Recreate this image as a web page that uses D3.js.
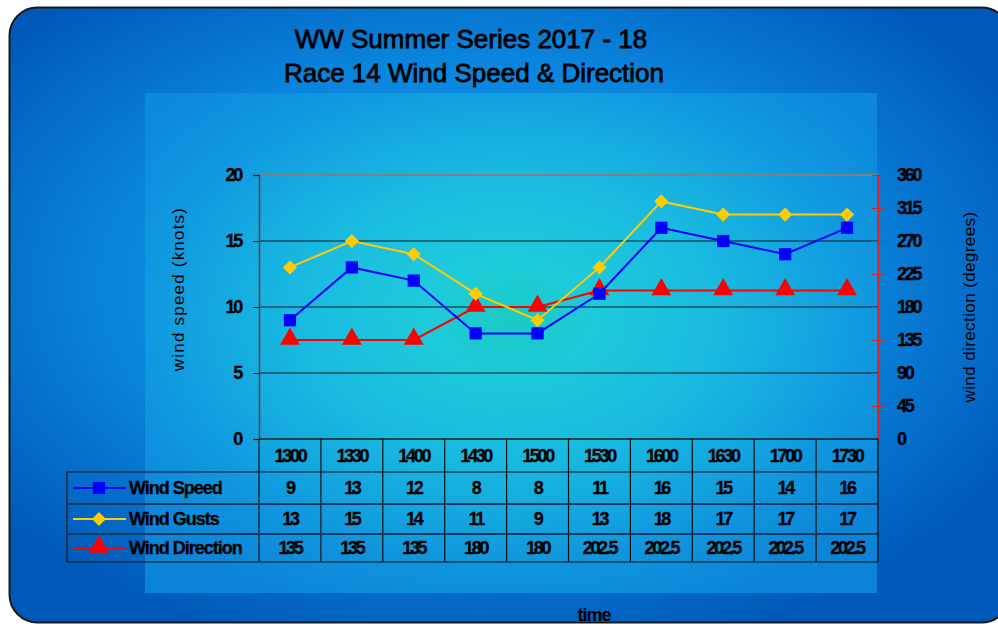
<!DOCTYPE html>
<html><head><meta charset="utf-8">
<script src="https://cdn.jsdelivr.net/npm/d3@7"></script>
<style>
html,body{margin:0;padding:0;background:#fff;}
svg{display:block;font-family:"Liberation Sans",Arial,sans-serif;}
</style></head>
<body>
<svg id="c" width="998" height="624"></svg>
<script>
const categories = ["1300","1330","1400","1430","1500","1530","1600","1630","1700","1730"];
const windSpeed = [9,13,12,8,8,11,16,15,14,16];
const windGusts = [13,15,14,11,9,13,18,17,17,17];
const windDirection = [135,135,135,180,180,202.5,202.5,202.5,202.5,202.5];
const leftTicks = [0,5,10,15,20];
const rightTicks = [0,45,90,135,180,225,270,315,360];
const seriesNames = ["Wind Speed","Wind Gusts","Wind Direction"];

const svg = d3.select("#c");
const defs = svg.append("defs");

const g1 = defs.append("radialGradient").attr("id","outerG").attr("cx","0.47").attr("cy","0.45").attr("r","0.62");
g1.append("stop").attr("offset","0").attr("stop-color","#14a4e6");
g1.append("stop").attr("offset","0.6").attr("stop-color","#0a84dc");
g1.append("stop").attr("offset","1").attr("stop-color","#0058b8");

const g2 = defs.append("radialGradient").attr("id","plotG").attr("cx","0.5").attr("cy","0.45").attr("r","0.62");
g2.append("stop").attr("offset","0").attr("stop-color","#1cd4bc");
g2.append("stop").attr("offset","0.18").attr("stop-color","#20d4d8");
g2.append("stop").attr("offset","0.45").attr("stop-color","#1cc4e0");
g2.append("stop").attr("offset","0.8").attr("stop-color","#129ce0");
g2.append("stop").attr("offset","1").attr("stop-color","#0e8cdc");

svg.append("rect").attr("x",9.5).attr("y",7.5).attr("width",1000).attr("height",615)
  .attr("rx",28).attr("fill","url(#outerG)").attr("stroke","#1a1a1a").attr("stroke-width",2);

svg.append("rect").attr("x",145).attr("y",93).attr("width",732).attr("height",500)
  .attr("fill","url(#plotG)").attr("opacity",0.82);

const L = 259, R = 878, T = 175, B = 439;
const x = d3.scaleBand().domain(categories).range([L, R]);
const cx = c => x(c) + x.bandwidth()/2;
const yL = d3.scaleLinear().domain([0,20]).range([B, T]);
const yR = d3.scaleLinear().domain([0,360]).range([B, T]);

const numStyle = sel => sel.attr("font-size",18).attr("font-weight","bold").attr("letter-spacing","-2.3px")
  .attr("fill","#000").attr("stroke","#000").attr("stroke-width",0.3);

svg.append("g").selectAll("line").data(leftTicks.filter(d=>d>0)).join("line")
  .attr("x1",L).attr("x2",R).attr("y1",d=>yL(d)).attr("y2",d=>yL(d))
  .attr("stroke",d=>d===20?"#808080":"#101820").attr("stroke-width",d=>d===20?2:1.2);

const la = svg.append("g").attr("transform",`translate(${L},0)`)
  .call(d3.axisLeft(yL).tickValues(leftTicks).tickSize(6).tickPadding(12));
la.select(".domain").attr("stroke","#404040").attr("stroke-width",1.5);
la.selectAll(".tick line").attr("stroke","#202020");
numStyle(la.selectAll("text"));

const ra = svg.append("g").attr("transform",`translate(${R},0)`)
  .call(d3.axisRight(yR).tickValues(rightTicks).tickSize(6).tickPadding(13));
ra.select(".domain").attr("stroke","#e02020").attr("stroke-width",1.2);
ra.selectAll(".tick line").attr("stroke","#e02020").attr("x1",-6).attr("x2",6);
numStyle(ra.selectAll("text"));

svg.append("line").attr("x1",L).attr("x2",R).attr("y1",B).attr("y2",B).attr("stroke","#202020").attr("stroke-width",1.5);

const series = [
  {name:seriesNames[0], vals:windSpeed, y:yL, color:"#0000ff", sym:d3.symbolSquare, size:150, rot:0, dy:0},
  {name:seriesNames[1], vals:windGusts, y:yL, color:"#ffcc00", sym:d3.symbolSquare, size:100, rot:45, dy:0},
  {name:seriesNames[2], vals:windDirection, y:yR, color:"#ff0000", sym:d3.symbolTriangle, size:170, rot:0, dy:-1}
];
const order = [2,1,0];
order.forEach(i=>{
  const s = series[i];
  const line = d3.line().x((d,j)=>cx(categories[j])).y(d=>s.y(d));
  svg.append("path").datum(s.vals).attr("d",line).attr("fill","none").attr("stroke",s.color).attr("stroke-width",2);
});
order.forEach(i=>{
  const s = series[i];
  svg.append("g").selectAll("path").data(s.vals).join("path")
    .attr("transform",(d,j)=>`translate(${cx(categories[j])},${s.y(d)+s.dy}) rotate(${s.rot})`)
    .attr("d",d3.symbol().type(s.sym).size(s.size)).attr("fill",s.color);
});

const rowY = [439,472,504,534,562];
const TL = 67;
const tg = svg.append("g");
const bounds = categories.map(c=>x(c)).concat([R]);
tg.selectAll("line.v").data(bounds).join("line").attr("class","v")
  .attr("x1",d=>d).attr("x2",d=>d).attr("y1",rowY[0]).attr("y2",rowY[4])
  .attr("stroke","#101010").attr("stroke-width",1.2);
tg.append("line").attr("x1",TL).attr("x2",TL).attr("y1",rowY[1]).attr("y2",rowY[4]).attr("stroke","#101010").attr("stroke-width",1.2);
[1,2,3,4].forEach(k=>{
  tg.append("line").attr("x1",TL).attr("x2",R).attr("y1",rowY[k]).attr("y2",rowY[k])
    .attr("stroke",(k===2||k===3)?"#103a60":"#101010").attr("stroke-width",(k===2||k===3)?2:1.2);
});
numStyle(tg.selectAll("text.h").data(categories).join("text").attr("class","h")
  .attr("x",d=>cx(d)).attr("y",(rowY[0]+rowY[1])/2+6).attr("text-anchor","middle").text(d=>d));
series.forEach((s,i)=>{
  const ym = (rowY[i+1]+rowY[i+2])/2;
  numStyle(tg.selectAll(null).data(s.vals).join("text")
    .attr("x",(d,j)=>cx(categories[j])).attr("y",ym+6).attr("text-anchor","middle").text(d=>d));
  tg.append("line").attr("x1",73).attr("x2",126).attr("y1",ym).attr("y2",ym).attr("stroke",s.color).attr("stroke-width",2);
  tg.append("path").attr("transform",`translate(99,${ym+s.dy}) rotate(${s.rot})`)
    .attr("d",d3.symbol().type(s.sym).size(s.size)).attr("fill",s.color);
  tg.append("text").attr("x",129).attr("y",ym+6).attr("font-size",18).attr("font-weight","bold")
    .attr("letter-spacing","-1px").attr("stroke","#000").attr("stroke-width",0.3).text(s.name);
});

svg.append("text").attr("x",471).attr("y",48).attr("text-anchor","middle").attr("font-size",26).attr("stroke","#000").attr("stroke-width",0.8).text("WW Summer Series 2017 - 18");
svg.append("text").attr("x",474).attr("y",82).attr("text-anchor","middle").attr("font-size",26).attr("stroke","#000").attr("stroke-width",0.8).text("Race 14 Wind Speed & Direction");
svg.append("text").attr("transform","translate(184,289) rotate(-90)").attr("text-anchor","middle").attr("font-size",17).attr("letter-spacing","1.2px").text("wind speed (knots)");
svg.append("text").attr("transform","translate(975,307) rotate(-90)").attr("text-anchor","middle").attr("font-size",17).attr("letter-spacing","0.4px").text("wind direction (degrees)");
svg.append("text").attr("x",594).attr("y",621).attr("text-anchor","middle").attr("font-size",18).attr("font-weight","bold").attr("letter-spacing","-1px").text("time");
</script>
</body></html>
